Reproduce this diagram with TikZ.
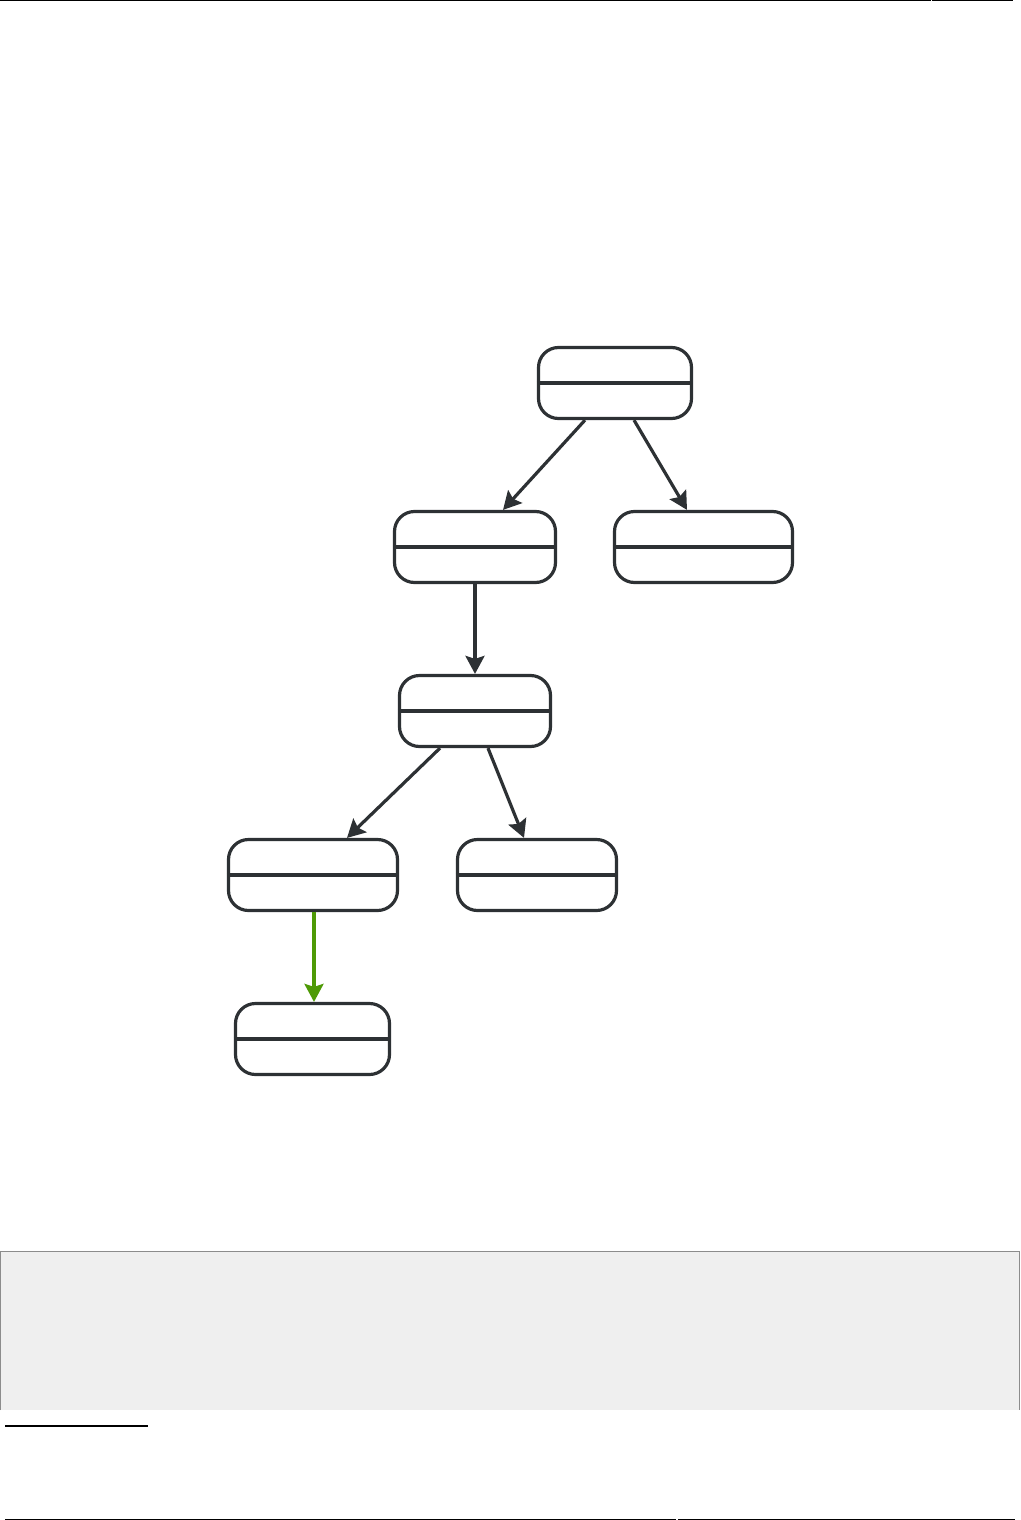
\documentclass[tikz,border=0pt]{standalone}
\usepackage{tikz}
\usetikzlibrary{arrows.meta,calc,positioning}
\definecolor{statedark}{HTML}{2D3134}
\definecolor{stategreen}{HTML}{4E9A06}
\definecolor{panelgray}{HTML}{EFEFEF}
\definecolor{panelline}{HTML}{8C8C8C}
\tikzset{
  statebox/.style={draw=statedark, fill=white, rounded corners=10pt, line width=1.6pt, minimum height=35.5pt, inner sep=0pt},
  divider/.style={statedark, line width=1.6pt},
  arrowline/.style={statedark, -{Stealth[length=9pt,width=9.5pt,inset=1.5pt]}, line width=1.6pt},
  greenline/.style={stategreen, -{Stealth[length=9pt,width=9.5pt,inset=1.5pt]}, line width=1.6pt},
  pagerule/.style={black, line width=0.5pt},
  panel/.style={panelline, line width=0.5pt}
}
\begin{document}
\begin{tikzpicture}[x=0.5pt,y=-0.5pt]
  \useasboundingbox (0,0) rectangle (1021,1520);
  \draw[pagerule] (0,0.5) -- (930.5,0.5);
  \draw[pagerule] (931.5,0.5) -- (1013,0.5);
  \node[statebox, minimum width=76.5pt] (root) at (615,383) {};
  \node[statebox, minimum width=80.5pt] (childl) at (475,547) {};
  \node[statebox, minimum width=89pt] (childr) at (703.5,547) {};
  \node[statebox, minimum width=75.5pt] (inner) at (475,711) {};
  \node[statebox, minimum width=84.5pt] (leafl) at (313,875) {};
  \node[statebox, minimum width=79.5pt] (leafr) at (537,875) {};
  \node[statebox, minimum width=77pt] (last) at (312.5,1039) {};
  \foreach \n in {root,childl,childr,inner,leafl,leafr,last}{
    \draw[divider] (\n.west) -- (\n.east);
  }
  \draw[arrowline] ([xshift=-15pt]root.south) -- ([xshift=14pt]childl.north);
  \draw[arrowline] ([xshift=9.5pt]root.south) -- ([xshift=-8.25pt]childr.north);
  \draw[arrowline] (childl.south) -- (inner.north);
  \draw[arrowline] ([xshift=-17.5pt]inner.south) -- ([xshift=17pt]leafl.north);
  \draw[arrowline] ([xshift=6.5pt]inner.south) -- ([xshift=-6.5pt]leafr.north);
  \draw[greenline] ([xshift=0.5pt]leafl.south) -- ([xshift=0.75pt]last.north);
  \fill[panelgray] (0.5,1251) rectangle (1019.5,1410);
  \draw[panel] (0.5,1410) -- (0.5,1251) -- (1019.5,1251) -- (1019.5,1410);
  \draw[black, line width=1pt] (5,1426) -- (148,1426);
  \draw[pagerule] (5,1519) -- (676,1519);
  \draw[pagerule] (678,1519) -- (1015,1519);
\end{tikzpicture}
\end{document}
